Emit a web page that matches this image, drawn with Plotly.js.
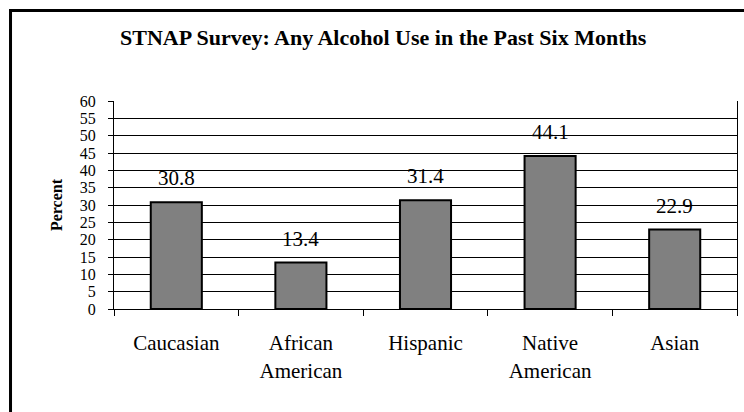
<!DOCTYPE html>
<html>
<head>
<meta charset="utf-8">
<script src="https://cdn.plot.ly/plotly-3.0.1.min.js"></script>
<style>
  html, body { margin: 0; padding: 0; background: #ffffff; }
  #chart { width: 744px; height: 412px; }
</style>
</head>
<body>
<div id="chart"></div>
<script>
// Data
const categories = ["Caucasian", "African<br>American", "Hispanic", "Native<br>American", "Asian"];
const percents = [30.8, 13.4, 31.4, 44.1, 22.9];
const yTickValues = [0, 5, 10, 15, 20, 25, 30, 35, 40, 45, 50, 55, 60];
const chartTitle = "STNAP Survey: Any Alcohol Use in the Past Six Months";
const yTitle = "Percent";

const serif = "Liberation Serif, Times New Roman, Times, serif";

const trace = {
  type: "bar",
  x: categories,
  y: percents,
  marker: { color: "#808080", line: { color: "#000000", width: 2 } },
  hoverinfo: "x+y"
};

const annotations = categories.map((c, i) => ({
  x: c,
  y: percents[i],
  xref: "x",
  yref: "y",
  text: percents[i].toFixed(1),
  showarrow: false,
  yanchor: "bottom",
  yshift: 10,
  font: { family: serif, size: 21, color: "#000000" }
}));

const layout = {
  width: 744,
  height: 412,
  margin: { l: 114, r: 7, t: 101, b: 103 },
  paper_bgcolor: "#ffffff",
  plot_bgcolor: "#ffffff",
  showlegend: false,
  bargap: 0.59,
  title: {
    text: "<b>" + chartTitle + "</b>",
    font: { family: serif, size: 22, color: "#000000" },
    xref: "container",
    yref: "container",
    x: 0.515,
    xanchor: "center",
    y: 0.91,
    yanchor: "middle"
  },
  xaxis: {
    type: "category",
    tickson: "boundaries",
    ticks: "outside",
    ticklen: 6,
    tickwidth: 1,
    tickcolor: "#000000",
    showline: true,
    linecolor: "#000000",
    linewidth: 1,
    showgrid: false,
    ticklabelstandoff: 15,
    tickfont: { family: serif, size: 21, color: "#000000" },
    fixedrange: true
  },
  yaxis: {
    range: [0, 60],
    tickmode: "array",
    tickvals: yTickValues,
    ticktext: yTickValues.map(String),
    ticks: "outside",
    ticklen: 5,
    tickwidth: 1,
    tickcolor: "#000000",
    showline: true,
    mirror: true,
    linecolor: "#000000",
    linewidth: 1,
    showgrid: true,
    gridcolor: "#000000",
    gridwidth: 1,
    zeroline: false,
    ticklabelstandoff: 9,
    tickfont: { family: serif, size: 16, color: "#000000" },
    title: {
      text: "<b>" + yTitle + "</b>",
      font: { family: serif, size: 16, color: "#000000" },
      standoff: 13
    },
    fixedrange: true
  },
  annotations: annotations,
  shapes: [
    {
      type: "path",
      xref: "paper",
      yref: "paper",
      path: "M -0.1661,-0.7 L -0.1661,1.435 L 1.2,1.435",
      line: { color: "#000000", width: 3 }
    }
  ]
};

Plotly.newPlot("chart", [trace], layout, { displayModeBar: false, staticPlot: true });
</script>
</body>
</html>
